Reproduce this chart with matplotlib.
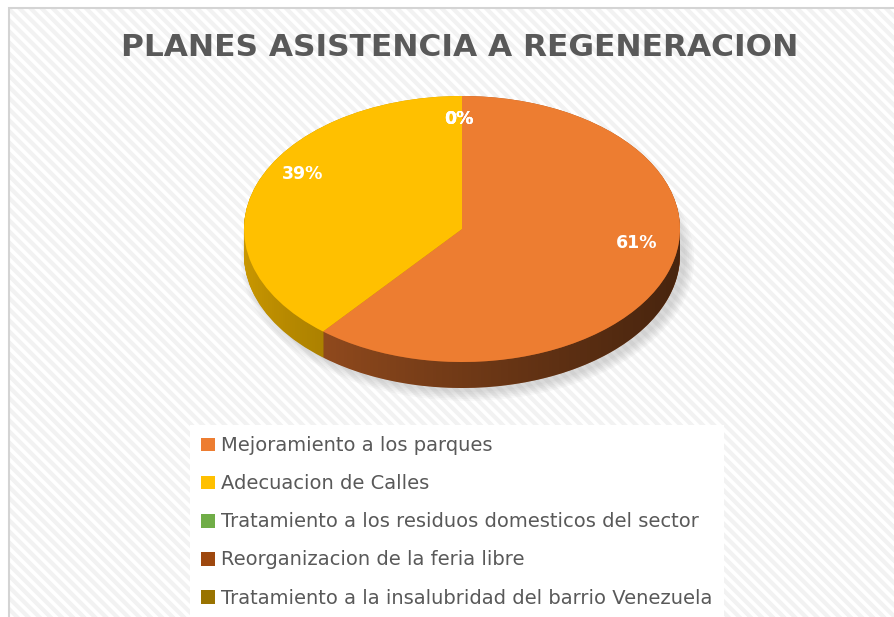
import numpy as np
import matplotlib
matplotlib.use('Agg')
import matplotlib.pyplot as plt
from matplotlib.patches import Rectangle, Ellipse, PathPatch
from matplotlib.path import Path

categories = ['Mejoramiento a los parques',
              'Adecuacion de Calles',
              'Tratamiento a los residuos domesticos del sector',
              'Reorganizacion de la feria libre',
              'Tratamiento a la insalubridad del barrio Venezuela']
values = [61, 39, 0, 0, 0]
colors = ['#ED7D31', '#FFC000', '#70AD47', '#9E480E', '#997300']
side_colors = ['#a85622', '#c99700', '#4f7a32', '#6e320a', '#6b5000']
title = 'PLANES ASISTENCIA A REGENERACION'

plt.rcParams['hatch.linewidth'] = 3.0
FONT = ['DejaVu Sans']

W, H = 894, 617
fig = plt.figure(figsize=(8.94, 6.17), dpi=100)
fig.patch.set_facecolor('white')

def fx(px):
    return px / W

def fy(py):
    return 1 - py / H

# striped chart area + frame
bg = Rectangle((fx(9), -0.05), 1.1, fy(8) + 0.05, transform=fig.transFigure,
               facecolor='white', edgecolor='#f2f2f2', hatch='\\\\\\', lw=0, zorder=-3)
fig.add_artist(bg)
frame = Rectangle((fx(9), -0.05), 1.1, fy(8) + 0.05, transform=fig.transFigure,
                  facecolor='none', edgecolor='#d4d4d4', lw=1.5, zorder=-2)
fig.add_artist(frame)

fig.text(fx(460), fy(47), title, ha='center', va='center', fontsize=22.5,
         fontweight='bold', color='#595959', family=FONT)

# pie axes, ellipse geometry in pixels
cx, cy, rx, ry = 462, 229, 218, 133
x0, x1, y0, y1 = 220, 710, 80, 410
depth = 26 / ry
ax = fig.add_axes([fx(x0), fy(y1), fx(x1) - fx(x0), fy(y0) - fy(y1)])

# soft shadow
for s in np.linspace(0.08, 0.0, 6):
    ax.add_patch(Ellipse((0.025, -depth - 0.03), 2 + s, 2 + s * rx / ry,
                         facecolor='#7f7f7f', edgecolor='none', alpha=0.05, zorder=0.5))

# side of the 3d pie
for k in np.linspace(depth, 0, 40):
    ax.pie(values, colors=side_colors, startangle=90, counterclock=False,
           center=(0, -k), wedgeprops=dict(linewidth=0, zorder=1))

t = np.linspace(np.pi, 2 * np.pi, 200)
verts = np.concatenate([np.column_stack([np.cos(t), np.sin(t) - depth]),
                        np.column_stack([np.cos(t[::-1]), np.sin(t[::-1])])])
side_path = Path(np.vstack([verts, verts[:1]]), closed=True)
clip = PathPatch(side_path, transform=ax.transData, facecolor='none', edgecolor='none')
ax.add_patch(clip)
grad = np.zeros((1, 256, 4))
grad[..., 3] = np.linspace(0.0, 0.5, 256) ** 0.8
img = ax.imshow(grad, extent=(-1, 1, -1 - depth, 0), aspect='auto', zorder=1.5,
                interpolation='bilinear')
img.set_clip_path(clip)

# top face
wedges, texts, autotexts = ax.pie(
    values, colors=colors, startangle=90, counterclock=False, autopct='%1.0f%%',
    wedgeprops=dict(linewidth=0, zorder=2),
    textprops=dict(color='white', fontsize=12.5, fontweight='bold', family=FONT))

label_pos = [(0.80, -0.105), (-0.73, 0.41), (-0.014, 0.83), (-0.014, 0.83), (-0.014, 0.83)]
for txt, p in zip(autotexts, label_pos):
    txt.set_position(p)
    txt.set_zorder(4)

ax.set_aspect('auto')
ax.set_xlim((x0 - cx) / rx, (x1 - cx) / rx)
ax.set_ylim((cy - y1) / ry, (cy - y0) / ry)
ax.axis('off')

fig.legend(wedges, categories, loc='upper left', bbox_to_anchor=(fx(190), fy(425)),
           frameon=True, facecolor='white', edgecolor='none', fancybox=False,
           framealpha=1, prop=dict(family=FONT, size=14), labelcolor='#595959',
           handlelength=0.72, handleheight=0.72, handletextpad=0.3,
           labelspacing=0.98, borderpad=0.58, borderaxespad=0)

fig.savefig('out.png', dpi=100)
